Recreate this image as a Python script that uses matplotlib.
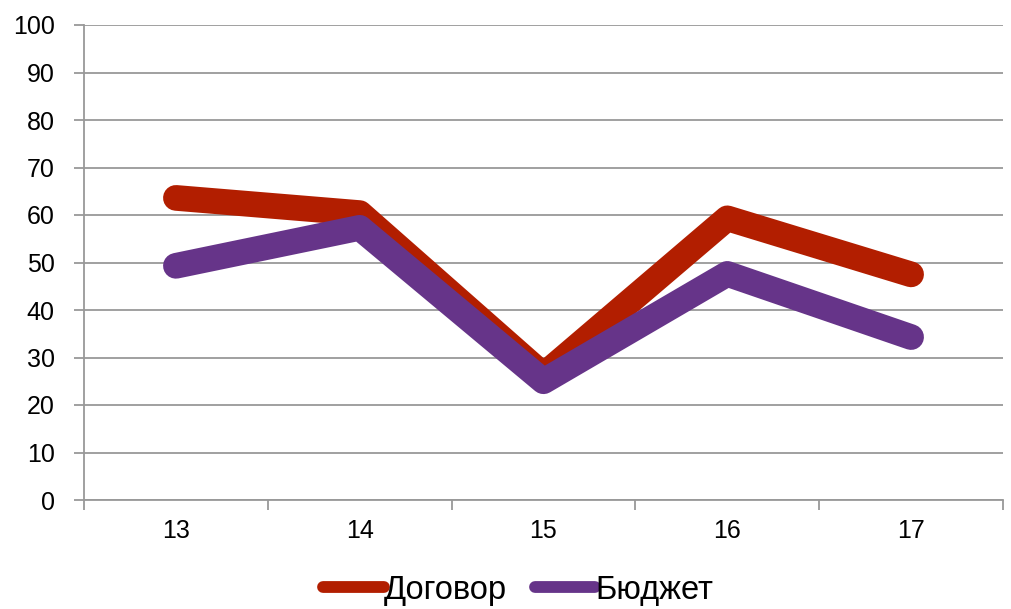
import matplotlib
matplotlib.use("Agg")
import matplotlib.pyplot as plt
import numpy as np

categories = ["13", "14", "15", "16", "17"]
dogovor = [63.6, 60.4, 26.3, 59.3, 47.5]
budget = [49.3, 57.3, 25.0, 47.6, 34.3]
yticks = [0, 10, 20, 30, 40, 50, 60, 70, 80, 90, 100]

plt.rcParams['font.family'] = ['Liberation Sans', 'DejaVu Sans']

fig = plt.figure(figsize=(10.12, 6.09), dpi=100)
ax = fig.add_axes([84/1012, 1 - 500/609, (1003-84)/1012, (500-25)/609])

x = np.arange(len(categories))
lw = 18.5
ax.plot(x, dogovor, color='#B21E00', lw=lw, solid_capstyle='round', solid_joinstyle='round', label='Договор', zorder=3)
ax.plot(x, budget, color='#663489', lw=lw, solid_capstyle='round', solid_joinstyle='round', label='Бюджет', zorder=4)

ax.set_xlim(-0.5, len(categories) - 0.5)
ax.set_ylim(0, 100)
ax.set_yticks(yticks)
ax.set_yticklabels([str(v) for v in yticks], fontsize=18)
ax.yaxis.grid(True, color='#999999', lw=1.3)
ax.set_axisbelow(True)

ax.set_xticks(np.arange(-0.5, len(categories), 1.0))
ax.set_xticklabels([])
ax.set_xticks(x, minor=True)
ax.set_xticklabels(categories, minor=True, fontsize=18)
ax.tick_params(axis='x', which='minor', length=0, pad=14)
ax.tick_params(axis='x', which='major', length=7, color='#999999', width=1.3, direction='out')
ax.tick_params(axis='y', length=7, color='#999999', width=1.3, direction='out', pad=14)

for s in ['top', 'right']:
    ax.spines[s].set_visible(False)
for s in ['left', 'bottom']:
    ax.spines[s].set_color('#999999')
    ax.spines[s].set_linewidth(1.3)

leg = fig.legend(loc='center', bbox_to_anchor=(0.512, 1 - 590/609), ncol=2, frameon=False,
                 fontsize=23.5, handlelength=1.85, handletextpad=0.0, columnspacing=0.85,
                 borderpad=0.0)
for h in leg.get_lines():
    h.set_linewidth(8.5)

fig.savefig('out.png', dpi=100)
